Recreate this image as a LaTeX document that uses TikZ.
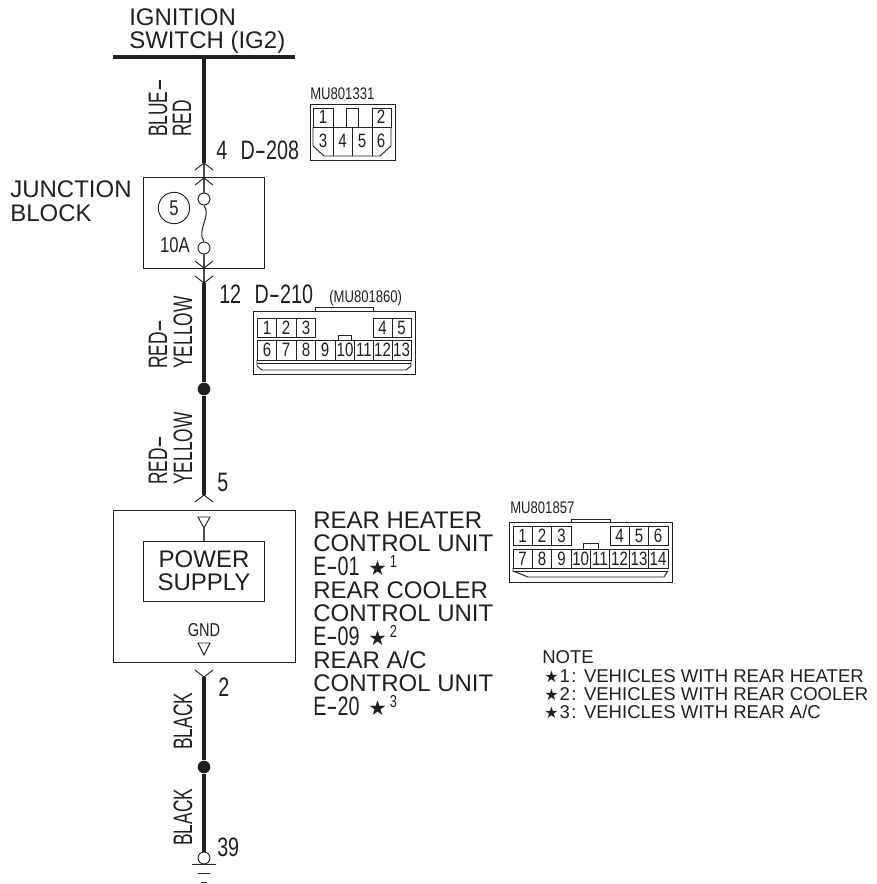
\documentclass[tikz,border=0pt]{standalone}
\usepackage{fontspec}
\usepackage{graphicx}
\setmainfont{Liberation Sans}
\newfontfamily\cond[FakeStretch=0.78]{Liberation Sans}
\newfontfamily\condb[FakeStretch=0.74]{Liberation Sans}
\newfontfamily\condc[FakeStretch=0.65]{Liberation Sans}
\newfontfamily\djv{DejaVu Sans}
\definecolor{ink}{HTML}{231F20}
\tikzset{
  big/.style={inner sep=0,anchor=west,font=\fontsize{18}{18}\selectfont,text=ink},
  narrow/.style={inner sep=0,anchor=west,font=\condb\fontsize{20}{20}\selectfont,text=ink},
  wirelab/.style={inner sep=0,anchor=west,rotate=90,font=\condc\fontsize{20}{20}\selectfont,text=ink},
  tiny/.style={inner sep=0,font=\cond\fontsize{12.6}{12}\selectfont,text=ink},
  pin/.style={inner sep=0,font=\cond\fontsize{14.5}{14}\selectfont,text=ink},
  notetext/.style={inner sep=0,anchor=west,font=\fontsize{13.9}{14}\selectfont,text=ink},
  boxline/.style={draw=ink,line width=0.75pt},
  thin/.style={draw=ink,line width=0.7pt},
  wire/.style={draw=ink,line width=3pt},
  grey/.style={draw=ink!80,line width=1.3pt},
  dotj/.style={circle,fill=ink,inner sep=0,minimum size=9.5pt},
  ring/.style={circle,draw=ink,line width=.7pt,fill=white,inner sep=0,minimum size=9pt},
}
\newcommand{\dsh}{\scalebox{1.7}[1]{-}}
\newcommand{\dshw}{\scalebox{2.2}[1]{-}}
\newcommand{\sta}[1]{\hspace{2.5pt}{\djv\fontsize{15.5}{15}\selectfont ★}\raisebox{.3em}{\fontsize{13}{13}\selectfont\,#1}}
\newcommand{\nst}[1]{{\djv\fontsize{12}{12}\selectfont ★}\hspace{.8pt}#1\hspace{1pt}:\hspace{.5pt}}
\begin{document}
\begin{tikzpicture}[x=0.75pt,y=-0.75pt]
\useasboundingbox (0,0) rectangle (876,884);
% coordinates along the wire
\coordinate (barL) at (113,57);
\coordinate (barR) at (295,57);
\coordinate (top) at (204,57);
\coordinate (c1) at (204,163);
\coordinate (c2) at (204,178);
\coordinate (c3) at (204,268);
\coordinate (c4) at (204,283);
\coordinate (c5) at (204,495);
\coordinate (c6) at (204,677);
\node[ring] (fa) at (204,199) {};
\node[ring] (fb) at (204,248) {};
\node[dotj] (j1) at (204,389) {};
\node[dotj] (j2) at (204,767) {};
\node[ring] (gnd) at (204,858) {};
% top bar and wires
\draw[ink,line width=2.3pt] (barL) -- (barR);
\draw[wire] (top) -- (c1);
\draw[grey] (c1) -- (c2) -- (fa);
\draw[ink,line width=.75pt] (fa.south) .. controls (212,216) and (196,230) .. (fb.north);
\draw[grey] (fb) -- (c3) -- (c4);
\draw[wire] (c4) -- (j1);
\draw[wire] (j1) -- (c5);
\draw[wire] (c6) -- (j2);
\draw[wire,line width=2.6pt] (j2) -- (gnd);
% chevrons
\foreach \c in {c1,c2,c5} \draw[thin] ([shift={(-9,7)}]\c) -- (\c) -- ([shift={(9,7)}]\c);
\foreach \c in {c3,c4,c6} \draw[thin] ([shift={(-9,-7)}]\c) -- (\c) -- ([shift={(9,-7)}]\c);
% ground
\draw[thin] (192,864) -- (216,864);
\draw[thin] (198,873) -- (210,873);
\draw[thin] (201,882) -- (207,882);
% boxes
\draw[boxline] (143.7,178) rectangle (264,268);
\draw[boxline] (113,510) rectangle (295,662);
\node[boxline,minimum width=90.5pt,minimum height=45pt,inner sep=0,font=\fontsize{18}{17.4}\selectfont,align=center,text=ink] (ps) at (204,571) {POWER\\SUPPLY};
% triangles
\coordinate (ti) at (204,528);
\draw[thin] (198,517) -- (210,517) -- (ti) -- cycle;
\draw[grey,line width=.9pt] (ti) -- (ps.north);
\draw[thin] (198,643) -- (210,643) -- (204,655) -- cycle;
\node[tiny,font=\cond\fontsize{14}{14}\selectfont] (gndt) at (204,630) {GND};
% circled 5
\node[circle,draw=ink,line width=.7pt,minimum size=23.5pt,inner sep=0,font=\cond\fontsize{16}{16}\selectfont,text=ink] (five) at (174,208) {5};
\node[inner sep=0,font=\cond\fontsize{16}{16}\selectfont,text=ink] (tena) at (175,245) {10A};
% main texts
\node[big] (ig1) at (129,17) {IGNITION};
\node[big] (ig2) at (129,42) {SWITCH (IG2)};
\node[big] (jb1) at (10,189) {JUNCTION};
\node[big] (jb2) at (10,213) {BLOCK};
\node[big] (r1) at (313,520) {REAR HEATER};
\node[big] (r2) at (313,543) {CONTROL UNIT};
\node[narrow] (r3) at (313,566) {E\dsh01 \sta{1}};
\node[big] (r4) at (313,590) {REAR COOLER};
\node[big] (r5) at (313,613) {CONTROL UNIT};
\node[narrow] (r6) at (313,636) {E\dsh09 \sta{2}};
\node[big] (r7) at (313,660) {REAR A/C};
\node[big] (r8) at (313,683) {CONTROL UNIT};
\node[narrow] (r9) at (313,706) {E\dsh20 \sta{3}};
% wire labels
\node[wirelab] (w1) at (158,137) {BLUE\dshw};
\node[wirelab] (w2) at (182,137) {RED};
\node[wirelab] (w3) at (158,369) {RED\dshw};
\node[wirelab] (w4) at (183,369) {YELLOW};
\node[wirelab] (w5) at (158,485) {RED\dshw};
\node[wirelab] (w6) at (183,485) {YELLOW};
\node[wirelab] (w7) at (183,750) {BLACK};
\node[wirelab] (w8) at (183,846) {BLACK};
% pin numbers
\node[narrow] (p1) at (216,150) {4 \hspace{6pt}D\dsh208};
\node[narrow] (p2) at (219,294) {12 \hspace{6pt}D\dsh210};
\node[narrow] (p3) at (217,482) {5};
\node[narrow] (p4) at (218,687) {2};
\node[narrow] (p5) at (217,847) {39};
% note
\node[notetext] (n0) at (542,657) {NOTE};
\node[notetext] (n1) at (544,676) {\nst{1} VEHICLES WITH REAR HEATER};
\node[notetext] (n2) at (544,694) {\nst{2} VEHICLES WITH REAR COOLER};
\node[notetext] (n3) at (544,712) {\nst{3} VEHICLES WITH REAR A/C};
% connector MU801331
\node[tiny,anchor=west] (m1) at (310,94) {MU801331};
\draw[thin] (310,104) rectangle (395,160);
\draw[thin] (313,108) rectangle (333,127);
\draw[thin] (346,108) rectangle (358,127);
\draw[thin] (372,108) rectangle (391,127);
\draw[thin] (333,127) -- (372,127);
\draw[thin] (313,127) -- (313,146) -- (324,156) -- (380,156) -- (391,146) -- (391,127);
\foreach \x in {333,352.5,372} \draw[thin] (\x,127) -- (\x,156);
\foreach \n/\x/\y in {1/323/117,2/381/117,3/323/141,4/342.5/141,5/362/141,6/381/141}
  \node[pin] (a\n) at (\x,\y) {\n};
% connector D-210
\node[tiny,anchor=west] (m2) at (329,298) {(MU801860)};
\draw[thin] (253.3,311) rectangle (415,374);
\draw[thin] (315,311) -- (315,307) -- (373,307) -- (373,311);
\draw[thin] (257,318) rectangle (315.5,337);
\draw[thin] (373,318) rectangle (411,337);
\draw[thin] (257,340) rectangle (411,360);
\draw[thin] (257,363) -- (411,363);
\draw[thin] (257,360) -- (257,366) -- (262,370) -- (406,370) -- (411,366) -- (411,360);
\foreach \x in {276.7,296,392} \draw[thin] (\x,318) -- (\x,337);
\foreach \x in {276.7,296,315.5,335,354,373,392} \draw[thin] (\x,340) -- (\x,360);
\draw[thin] (338,340) -- (338,335) -- (351,335) -- (351,340);
\foreach \n/\x in {1/267,2/286,3/306,4/382.5,5/401.5}
  \node[pin] (b\n) at (\x,327.5) {\n};
\foreach \n/\x in {6/267,7/286,8/306,9/325,10/345,11/364,12/382.5,13/401.5}
  \node[pin] (b\n) at (\x,350) {\n};
% connector MU801857
\node[tiny,anchor=west] (m3) at (510,508) {MU801857};
\draw[thin] (509,522.5) rectangle (672,582);
\draw[thin] (571,522.5) -- (571,519) -- (610,519) -- (610,522.5);
\draw[thin] (513,526) rectangle (571,545);
\draw[thin] (610,526) rectangle (668,545);
\draw[thin] (513,549) rectangle (668,568);
\draw[thin] (513,571) -- (668,571);
\draw[thin] (513,568) -- (513,571) -- (528,577) -- (664,577) -- (668,571);
\foreach \x in {532.3,551.7,629,648.5} \draw[thin] (\x,526) -- (\x,545);
\foreach \x in {532.3,551.7,571,590.4,609.8,629,648.5} \draw[thin] (\x,549) -- (\x,568);
\draw[thin] (583,549) -- (583,543) -- (598,543) -- (598,549);
\foreach \n/\x in {1/522.5,2/542,3/561.5,4/619.5,5/639,6/658}
  \node[pin] (e\n) at (\x,535.5) {\n};
\foreach \n/\x in {7/522.5,8/542,9/561.5,10/580.7,11/600,12/619.5,13/639,14/658}
  \node[pin] (e\n) at (\x,558.5) {\n};
\end{tikzpicture}
\end{document}
